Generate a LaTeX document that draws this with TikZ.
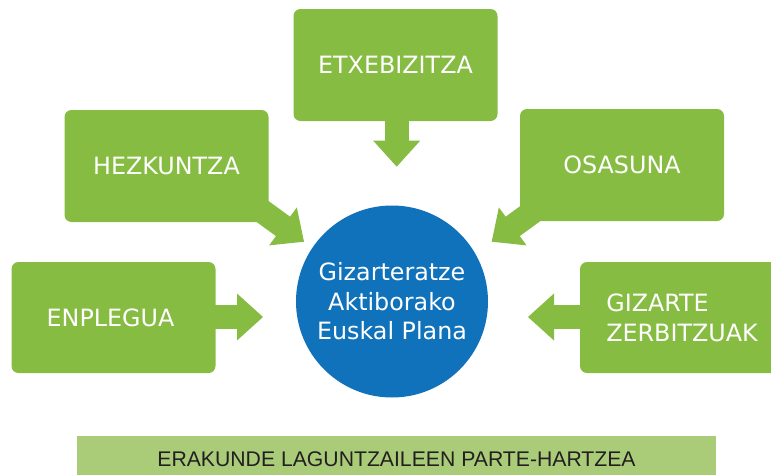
\documentclass[tikz,border=0pt]{standalone}
\usepackage{fontspec}
\setmainfont{DejaVu Sans}
\newfontfamily\barfont{Liberation Sans}
\usetikzlibrary{calc}
\definecolor{boxgreen}{HTML}{87BC42}
\definecolor{circblue}{HTML}{1072BA}
\definecolor{barg}{HTML}{AACC79}
\definecolor{bartext}{HTML}{231F20}
\tikzset{
  greenbox/.style={rectangle, rounded corners=7pt, fill=boxgreen, text=white,
    font=\fontsize{23.8}{30}\selectfont, inner sep=0pt,
    minimum height=112pt, minimum width=204pt},
  shaft/.style={draw=boxgreen, line width=24pt},
  headfill/.style={fill=boxgreen},
  plan/.style={circle, fill=circblue, text=white, minimum size=192pt, inner sep=0pt,
    align=center, font=\fontsize{23.8}{29.5}\selectfont},
  barbox/.style={rectangle, fill=barg, text=bartext, inner sep=0pt,
    minimum width=639pt, minimum height=46pt, font=\barfont\fontsize{21.2}{24}\selectfont},
}
\newcommand\blockarrow[3]{%
  \coordinate (#3b) at ($(#2)!26pt!(#1)$);
  \draw[shaft] (#1) -- ($(#2)!25pt!(#1)$);
  \fill[headfill] (#2) -- ($(#3b)!23.5pt!90:(#2)$) -- ($(#3b)!23.5pt!-90:(#2)$) -- cycle;}
\begin{document}
\begin{tikzpicture}[x=1pt,y=-1pt]
\clip (0,0) rectangle (771,474);
% arrow end points
\coordinate (etxs) at (396.7,110);
\coordinate (etxt) at (396.7,166.7);
\coordinate (hezs) at (231.3,188.7);
\coordinate (hezt) at (304,241.7);
\coordinate (osas) at (564.4,188.7);
\coordinate (osat) at (491.7,241.7);
\coordinate (enps) at (205,317);
\coordinate (enpt) at (263,317);
\coordinate (gizs) at (588,317);
\coordinate (gizt) at (528,317);
% arrows
\blockarrow{etxs}{etxt}{etxa}
\blockarrow{hezs}{hezt}{heza}
\blockarrow{osas}{osat}{osaa}
\blockarrow{enps}{enpt}{enpa}
\blockarrow{gizs}{gizt}{giza}
% boxes
\node[greenbox] (etx) at (395.5,65) {ETXEBIZITZA};
\node[greenbox] (hez) at (166.5,166) {HEZKUNTZA};
\node[greenbox] (osa) at (622,165) {OSASUNA};
\node[greenbox, minimum height=111pt] (enp) at (113.5,317.5) {\hspace*{-6pt}ENPLEGUA};
\node[greenbox, minimum height=111pt, align=left] (giz) at (682,317.5) {GIZARTE\\ZERBITZUAK};
% centre
\node[plan] (plan) at (392,301.5) {Gizarteratze\\Aktiborako\\Euskal Plana};
% bottom bar
\node[barbox] (bar) at (396.5,459) {ERAKUNDE LAGUNTZAILEEN PARTE-HARTZEA};
\end{tikzpicture}
\end{document}
